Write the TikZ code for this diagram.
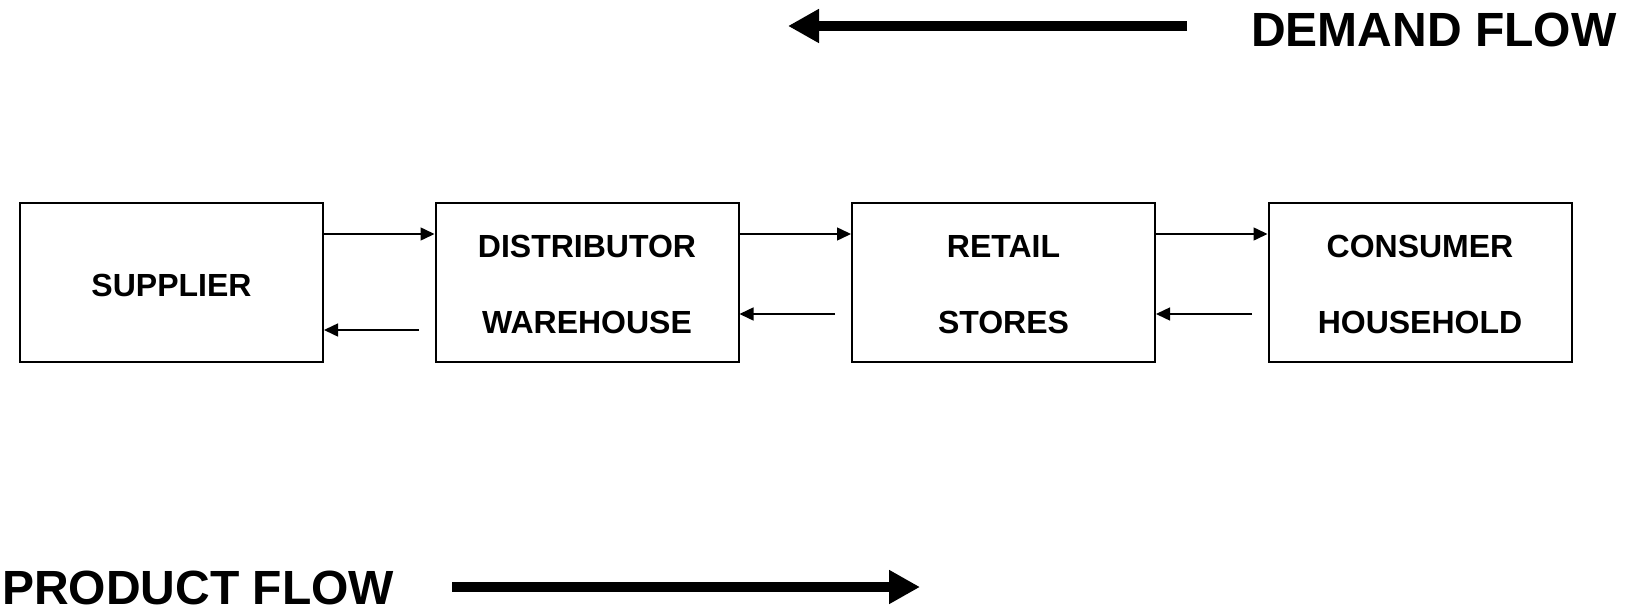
\documentclass[tikz,border=0pt]{standalone}
\usepackage{fontspec}
\setmainfont{Liberation Sans}
\usetikzlibrary{arrows.meta}
\begin{document}
\begin{tikzpicture}[x=1pt,y=-1pt,
  stagebox/.style={draw=black, line width=2pt, minimum width=303pt, minimum height=159pt, inner sep=0pt},
  boxtext/.style={anchor=base, inner sep=0pt, font=\fontsize{32}{32}\selectfont\bfseries},
  flowtext/.style={anchor=base west, inner sep=0pt, font=\fontsize{48}{48}\selectfont\bfseries},
  link/.style={line width=1.5pt, -{Triangle[length=14pt,width=13pt]}},
  bigflow/.style={line width=10pt, -{Triangle[length=31pt,width=32pt]}}]
\useasboundingbox (0,0) rectangle (1635,610);
% boxes
\node[stagebox] (sup) at (171.5,282.5) {};
\node[stagebox] (dis) at (587,282.5) {};
\node[stagebox] (ret) at (1003.5,282.5) {};
\node[stagebox] (con) at (1420,282.5) {};
% texts
\node[boxtext] (supT) at (171.5,296) {SUPPLIER};
\node[boxtext] (disT1) at (587,257) {DISTRIBUTOR};
\node[boxtext] (disT2) at (587,333) {WAREHOUSE};
\node[boxtext] (retT1) at (1003.5,257) {RETAIL};
\node[boxtext] (retT2) at (1003.5,333) {STORES};
\node[boxtext] (conT1) at (1420,257) {CONSUMER};
\node[boxtext] (conT2) at (1420,333) {HOUSEHOLD};
% forward links
\draw[link] (sup.east |- 0,234) -- (dis.west |- 0,234);
\draw[link] (dis.east |- 0,234) -- (ret.west |- 0,234);
\draw[link] (ret.east |- 0,234) -- (con.west |- 0,234);
% backward links
\coordinate (b1) at (419,330);
\coordinate (b2) at (835,314);
\coordinate (b3) at (1252,314);
\draw[link] (b1) -- (sup.east |- b1);
\draw[link] (b2) -- (dis.east |- b2);
\draw[link] (b3) -- (ret.east |- b3);
% flows
\node[flowtext] (demand) at (1251,47) {DEMAND FLOW};
\node[flowtext] (product) at (2,604) {PRODUCT FLOW};
\coordinate (dS) at (1187,26);
\coordinate (dE) at (788,26);
\coordinate (pS) at (452,587);
\coordinate (pE) at (920,587);
\draw[bigflow] (dS) -- (dE);
\draw[bigflow] (pS) -- (pE);
\end{tikzpicture}
\end{document}
